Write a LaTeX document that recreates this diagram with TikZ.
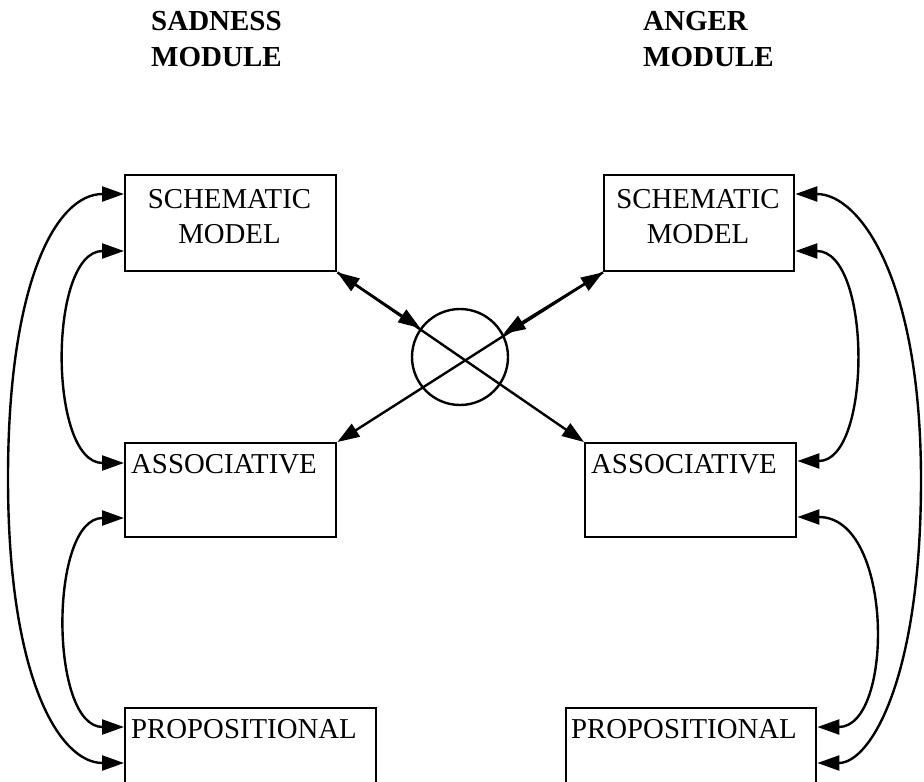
\documentclass[tikz,border=0pt]{standalone}
\usepackage{fontspec}
\setmainfont{Liberation Serif}
\usetikzlibrary{arrows.meta}

\begin{document}
\begin{tikzpicture}[
  x=1pt, y=-1pt,
  line width=2.4pt,
  >={Triangle[length=22pt,width=15pt]},
  box/.style={draw, rectangle, inner sep=0pt, anchor=north west},
  title/.style={anchor=north west, align=left, inner sep=0pt,
                font=\fontsize{29}{36}\selectfont\bfseries},
  twoline/.style={anchor=north, align=center, inner sep=0pt,
                  font=\fontsize{28.8}{35}\selectfont},
  oneline/.style={anchor=base west, inner sep=0pt,
                  font=\fontsize{28.8}{35}\selectfont},
  hubstyle/.style={draw, circle, minimum size=96pt, inner sep=0pt}
]
\useasboundingbox (0,0) rectangle (924,782);
\clip (0,0) rectangle (924,782);

% module headings
\node[title] (tsad) at (150,10) {SADNESS\\MODULE};
\node[title] (tang) at (642,10) {ANGER\\MODULE};

% sadness module
\node[box, minimum width=211pt, minimum height=96pt] (ls) at (124,174) {};
\node[box, minimum width=211pt, minimum height=94pt] (la) at (124,442) {};
\node[box, minimum width=251pt, minimum height=110pt] (lp) at (124,707) {};
\node[twoline] (lst) at (229.5,188) {SCHEMATIC\\MODEL};
\node[oneline] (lat) at (130,473) {ASSOCIATIVE};
\node[oneline] (lpt) at (130,738) {PROPOSITIONAL};

% anger module
\node[box, minimum width=190pt, minimum height=96pt] (rs) at (603,174) {};
\node[box, minimum width=211pt, minimum height=94pt] (ra) at (584,442) {};
\node[box, minimum width=250pt, minimum height=110pt] (rp) at (565,707) {};
\node[twoline] (rst) at (698,188) {SCHEMATIC\\MODEL};
\node[oneline] (rat) at (590,473) {ASSOCIATIVE};
\node[oneline] (rpt) at (570,738) {PROPOSITIONAL};

% shared node between the modules
\node[hubstyle] (hub) at (460,357) {};

% crossing links through the shared node
\draw[<->] (ls.south east) -- (ra.north west);
\draw[->]  (ls.south east) -- (hub.144);
\draw[<->] (rs.south west) -- (la.north east);
\draw[->]  (rs.south west) -- (hub.28);

% links within the sadness module
\draw[<->] ([yshift=-20pt]ls.north west)
  .. controls (55,194) and (8,285) .. (8,478)
  .. controls (8,680) and (60,763) .. ([yshift=-56pt]lp.north west);
\draw[<->] ([yshift=-77pt]ls.north west)
  .. controls (48,251) and (48,463) .. ([yshift=-21pt]la.north west);
\draw[<->] ([yshift=-76pt]la.north west)
  .. controls (49,518) and (49,727) .. ([yshift=-20pt]lp.north west);

% links within the anger module
\draw[<->] ([yshift=-20pt]rs.north east)
  .. controls (860,194) and (921,280) .. (921,480)
  .. controls (921,680) and (870,763) .. ([yshift=-56pt]rp.north east);
\draw[<->] ([yshift=-77pt]rs.north east)
  .. controls (872,251) and (872,461) .. ([yshift=-19pt]ra.north east);
\draw[<->] ([yshift=-75pt]ra.north east)
  .. controls (894,517) and (894,727) .. ([yshift=-20pt]rp.north east);
\end{tikzpicture}
\end{document}
